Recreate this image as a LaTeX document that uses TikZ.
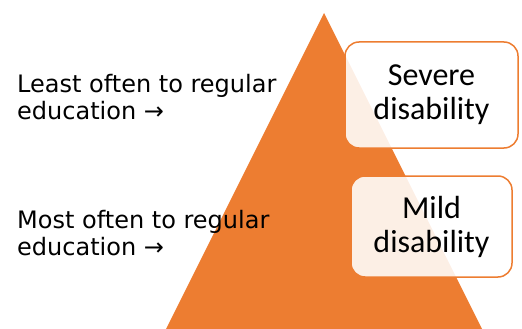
\documentclass[tikz,border=0pt]{standalone}
\usepackage{fontspec}
\setmainfont{DejaVu Sans}
\newfontfamily\boxfont{Carlito}
\definecolor{orng}{HTML}{ED7D31}
\tikzset{
  levelbox/.style={draw=orng, line width=1.5pt, fill=white, fill opacity=0.88, text opacity=1,
    rounded corners=14pt, align=center, inner sep=0pt,
    font=\boxfont\fontsize{32}{34}\selectfont},
  sidetext/.style={anchor=north west, align=left, inner sep=0pt,
    font=\fontsize{24}{27}\selectfont}
}
\begin{document}
\begin{tikzpicture}[x=1pt,y=-1pt]
\useasboundingbox (0,0) rectangle (522,329);
\fill[orng] (324,13) -- (482,329) -- (166,329) -- cycle;
\node[levelbox, minimum width=173pt, minimum height=106pt] (severe) at (431.5,95) {Severe\\disability};
\node[levelbox, minimum width=161pt, minimum height=101pt] (mild) at (431.5,226.5) {Mild\\disability};
\node[sidetext] (least) at (17,74) {Least often to regular\\education →};
\node[sidetext] (most) at (17,210) {Most often to regular\\education →};
\end{tikzpicture}
\end{document}
